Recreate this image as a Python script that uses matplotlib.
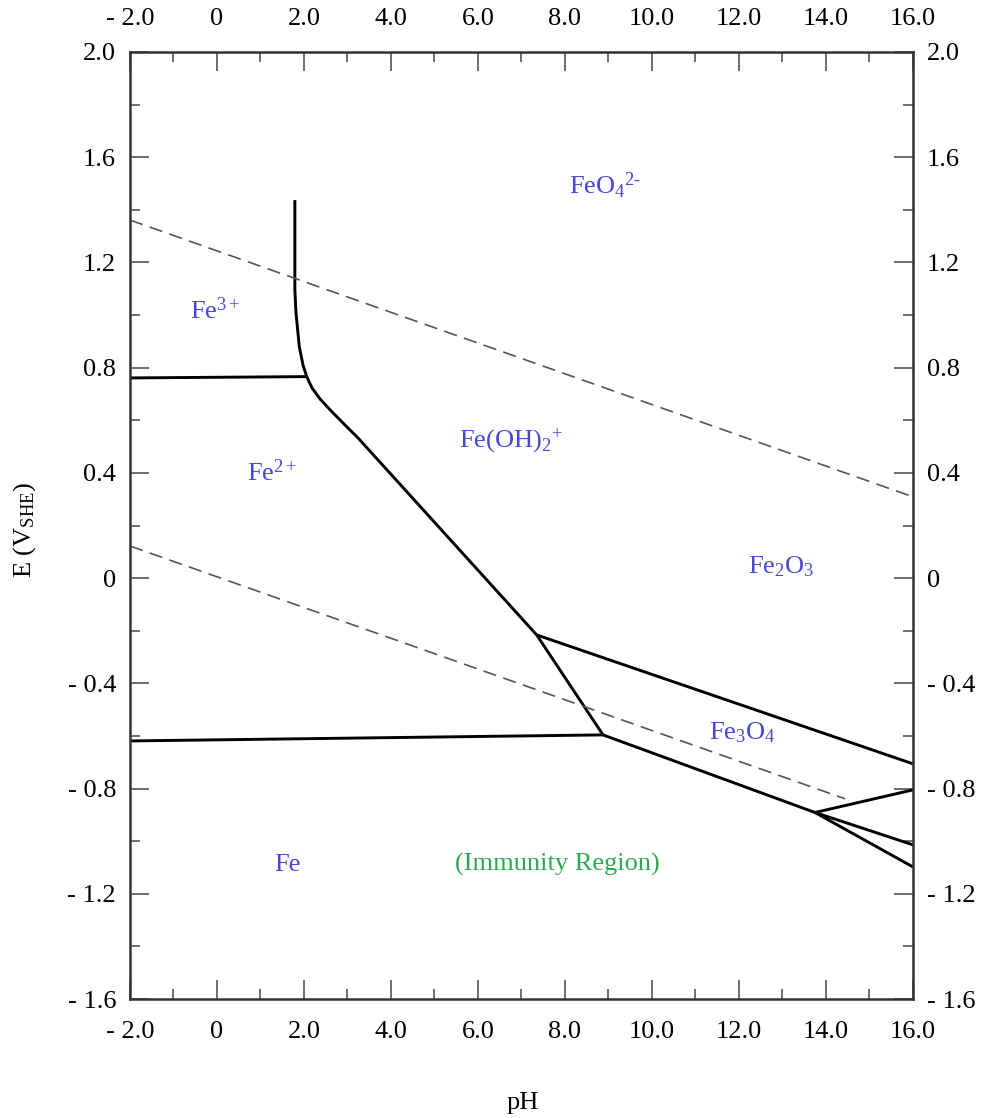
import matplotlib
matplotlib.use("Agg")
import matplotlib.pyplot as plt
from matplotlib.ticker import MultipleLocator, FuncFormatter

plt.rcParams['font.family'] = ['Liberation Serif', 'DejaVu Serif']
plt.rcParams['mathtext.fontset'] = 'custom'
plt.rcParams['mathtext.rm'] = 'Liberation Serif'
plt.rcParams['mathtext.it'] = 'Liberation Serif:italic'
plt.rcParams['mathtext.bf'] = 'Liberation Serif:bold'

# ---- data (pH, E in V_SHE) ----
# Fe3+ / Fe(OH)2+ vertical boundary continuing into Fe2+ / Fe(OH)2+ / Fe2O3 boundary
b1_ph = [1.79, 1.79, 1.816, 1.892, 1.977, 2.062, 2.184, 2.368, 2.644, 2.943, 3.241, 7.349, 8.874]
b1_e = [1.437, 1.095, 1.008, 0.880, 0.810, 0.766, 0.723, 0.681, 0.632, 0.582, 0.533, -0.216, -0.596]
# Fe3+ / Fe2+
b2_ph = [-2.0, 2.062]
b2_e = [0.761, 0.766]
# Fe2+ / Fe
b3_ph = [-2.0, 8.874]
b3_e = [-0.619, -0.596]
# Fe2O3 / Fe3O4
b4_ph = [7.349, 16.0]
b4_e = [-0.216, -0.706]
# Fe3O4 / Fe
b5_ph = [8.874, 13.747]
b5_e = [-0.596, -0.891]
# branches from the junction at high pH
br_ph = [13.747, 16.0]
br1_e = [-0.891, -0.805]
br2_e = [-0.891, -1.014]
br3_e = [-0.891, -1.098]
# water stability lines (dashed)
o2_ph = [-2.0, 16.0]
o2_e = [1.361, 0.309]
h2_ph = [-2.0, 14.44]
h2_e = [0.122, -0.839]

# region labels
lab_text = [r"FeO$_4$$^{2\text{-}}$", r"Fe$^{3+}$", r"Fe(OH)$_2$$^{+}$", r"Fe$^{2+}$",
            r"Fe$_2$O$_3$", r"Fe$_3$O$_4$", "Fe"]
lab_ph = [8.92, -0.05, 6.76, 1.26, 12.97, 12.07, 1.61]
lab_e = [1.49, 1.015, 0.525, 0.40, 0.043, -0.588, -1.09]
imm_text = "(Immunity Region)"
imm_ph, imm_e = 7.82, -1.09

fig = plt.figure(figsize=(9.87, 11.18), dpi=100)
ax = fig.add_axes([130/987, 1-999/1118, 783/987, 947/1118])
ax.set_xlim(-2, 16)
ax.set_ylim(-1.6, 2.0)

lw = 2.1
for xs, ys in [(b1_ph, b1_e), (b2_ph, b2_e), (b3_ph, b3_e), (b4_ph, b4_e),
               (b5_ph, b5_e), (br_ph, br1_e), (br_ph, br2_e), (br_ph, br3_e)]:
    ax.plot(xs, ys, color='black', lw=lw, solid_capstyle='butt', solid_joinstyle='round')

for xs, ys in [(o2_ph, o2_e), (h2_ph, h2_e)]:
    ax.plot(xs, ys, color='#555555', lw=1.2, dashes=(8, 4.5))

blue = '#4848d8'
for t, x, y in zip(lab_text, lab_ph, lab_e):
    ax.text(x, y, t, color=blue, fontsize=19, ha='center', va='center')
ax.text(imm_ph, imm_e, imm_text, color='#2aaa50', fontsize=19, ha='center', va='center')

def fmt(v, pos):
    if abs(v) < 1e-9:
        return "0"
    s = f"{abs(v):.1f}"
    return "- " + s if v < 0 else s

ax.xaxis.set_major_locator(MultipleLocator(2))
ax.xaxis.set_minor_locator(MultipleLocator(1))
ax.yaxis.set_major_locator(MultipleLocator(0.4))
ax.yaxis.set_minor_locator(MultipleLocator(0.2))
ax.xaxis.set_major_formatter(FuncFormatter(fmt))
ax.yaxis.set_major_formatter(FuncFormatter(fmt))

ax.tick_params(which='both', direction='in', top=True, right=True,
               labeltop=True, labelright=True, colors='#555555', labelcolor='black',
               labelsize=19)
ax.tick_params(which='major', length=14, width=1.2)
ax.tick_params(which='minor', length=7, width=1.2)
ax.tick_params(axis='x', which='major', pad=16)
ax.tick_params(axis='y', which='major', pad=10)

for sp in ax.spines.values():
    sp.set_linewidth(1.8)
    sp.set_color('#333333')

fig.text(25/987, 1-530/1118, r"E (V$_{\mathrm{SHE}}$)", rotation=90,
         ha='center', va='center', fontsize=19)
fig.text(523/987, 1-1103/1118, "pH", ha='center', va='center', fontsize=19)

fig.savefig("out.png", dpi=100, facecolor='white')
